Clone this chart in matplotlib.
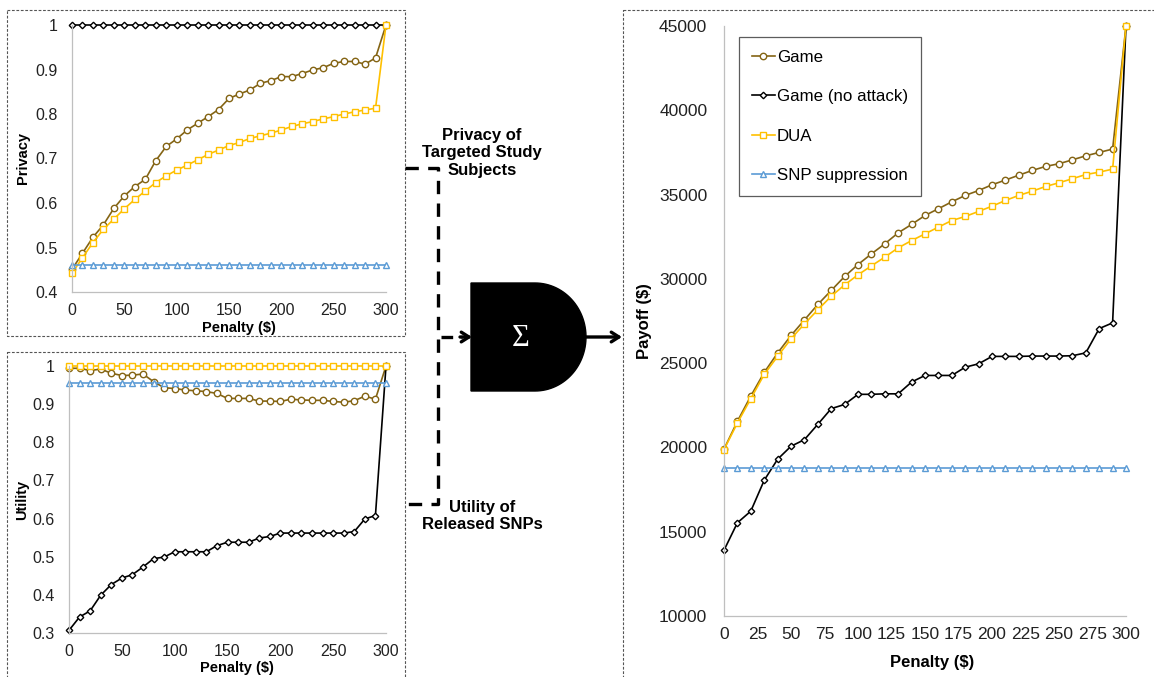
import matplotlib
matplotlib.use("Agg")
import matplotlib.pyplot as plt
import numpy as np
from matplotlib.patches import Rectangle, Polygon

plt.rcParams['font.family'] = ['Liberation Sans', 'DejaVu Sans']

# ---------------- data ----------------
penalty = [0, 10, 20, 30, 40, 50, 60, 70, 80, 90, 100, 110, 120, 130, 140, 150,
           160, 170, 180, 190, 200, 210, 220, 230, 240, 250, 260, 270, 280, 290, 300]

privacy_game = [0.451, 0.487, 0.523, 0.551, 0.588, 0.616, 0.637, 0.653, 0.695, 0.727, 0.744,
                0.764, 0.779, 0.794, 0.810, 0.835, 0.845, 0.854, 0.869, 0.875, 0.884, 0.884,
                0.891, 0.899, 0.904, 0.914, 0.918, 0.918, 0.912, 0.926, 1.0]
privacy_noattack = [1.0, 1.0, 1.0, 1.0, 1.0, 1.0, 1.0, 1.0, 1.0, 1.0, 1.0, 1.0, 1.0, 1.0, 1.0, 1.0,
                    1.0, 1.0, 1.0, 1.0, 1.0, 1.0, 1.0, 1.0, 1.0, 1.0, 1.0, 1.0, 1.0, 1.0, 1.0]
privacy_dua = [0.442, 0.477, 0.511, 0.541, 0.564, 0.587, 0.608, 0.627, 0.646, 0.661, 0.674,
               0.685, 0.697, 0.709, 0.719, 0.729, 0.736, 0.745, 0.751, 0.757, 0.764, 0.772,
               0.778, 0.783, 0.789, 0.794, 0.800, 0.805, 0.809, 0.813, 1.0]
privacy_snp = [0.46, 0.46, 0.46, 0.46, 0.46, 0.46, 0.46, 0.46, 0.46, 0.46, 0.46, 0.46, 0.46, 0.46,
               0.46, 0.46, 0.46, 0.46, 0.46, 0.46, 0.46, 0.46, 0.46, 0.46, 0.46, 0.46, 0.46, 0.46,
               0.46, 0.46, 0.46]

utility_game = [0.994, 0.994, 0.988, 0.992, 0.981, 0.975, 0.976, 0.979, 0.959, 0.943, 0.941,
                0.937, 0.935, 0.933, 0.928, 0.915, 0.915, 0.915, 0.908, 0.908, 0.907, 0.913,
                0.911, 0.910, 0.910, 0.907, 0.905, 0.909, 0.921, 0.913, 1.0]
utility_noattack = [0.307, 0.342, 0.358, 0.399, 0.427, 0.444, 0.453, 0.473, 0.495, 0.499, 0.513,
                    0.513, 0.513, 0.513, 0.529, 0.538, 0.538, 0.538, 0.549, 0.553, 0.562, 0.562,
                    0.562, 0.562, 0.562, 0.562, 0.562, 0.566, 0.599, 0.608, 1.0]
utility_dua = [1.0, 1.0, 1.0, 1.0, 1.0, 1.0, 1.0, 1.0, 1.0, 1.0, 1.0, 1.0, 1.0, 1.0, 1.0, 1.0,
               1.0, 1.0, 1.0, 1.0, 1.0, 1.0, 1.0, 1.0, 1.0, 1.0, 1.0, 1.0, 1.0, 1.0, 1.0]
utility_snp = [0.955, 0.955, 0.955, 0.955, 0.955, 0.955, 0.955, 0.955, 0.955, 0.955, 0.955,
               0.955, 0.955, 0.955, 0.955, 0.955, 0.955, 0.955, 0.955, 0.955, 0.955, 0.955,
               0.955, 0.955, 0.955, 0.955, 0.955, 0.955, 0.955, 0.955, 0.955]

payoff_game = [19900, 21550, 23050, 24450, 25600, 26640, 27560, 28480, 29310, 30140, 30850,
               31480, 32080, 32730, 33230, 33760, 34160, 34570, 34950, 35240, 35580, 35860,
               36150, 36430, 36670, 36830, 37060, 37300, 37500, 37700, 45000]
payoff_noattack = [13900, 15530, 16220, 18050, 19300, 20070, 20460, 21370, 22300, 22550, 23150,
                   23150, 23180, 23180, 23880, 24270, 24270, 24270, 24760, 24960, 25400, 25400,
                   25400, 25420, 25420, 25420, 25440, 25610, 27050, 27390, 45000]
payoff_dua = [19870, 21450, 22890, 24330, 25400, 26440, 27330, 28160, 28970, 29640, 30240,
              30770, 31290, 31840, 32270, 32670, 33070, 33460, 33700, 34000, 34310, 34650,
              34950, 35200, 35480, 35700, 35940, 36190, 36330, 36510, 45000]
payoff_snp = [18800, 18800, 18800, 18800, 18800, 18800, 18800, 18800, 18800, 18800, 18800,
              18800, 18800, 18800, 18800, 18800, 18800, 18800, 18800, 18800, 18800, 18800,
              18800, 18800, 18800, 18800, 18800, 18800, 18800, 18800, 18800]

series_names = ['Game', 'Game (no attack)', 'DUA', 'SNP suppression']

privacy_ticks = [0.4, 0.5, 0.6, 0.7, 0.8, 0.9, 1.0]
privacy_ticklabels = ['0.4', '0.5', '0.6', '0.7', '0.8', '0.9', '1']
utility_ticks = [0.3, 0.4, 0.5, 0.6, 0.7, 0.8, 0.9, 1.0]
utility_ticklabels = ['0.3', '0.4', '0.5', '0.6', '0.7', '0.8', '0.9', '1']
small_xticks = [0, 50, 100, 150, 200, 250, 300]
payoff_ticks = [10000, 15000, 20000, 25000, 30000, 35000, 40000, 45000]
payoff_xticks = [0, 25, 50, 75, 100, 125, 150, 175, 200, 225, 250, 275, 300]

# ---------------- styles ----------------
W, H = 1154, 677
BROWN = '#846414'
YELLOW = '#FFC000'
BLUE = '#5B9BD5'
AXGRAY = '#BFBFBF'
styles = [
    dict(color=BROWN, marker='o', ms=4.6),
    dict(color='black', marker='D', ms=3.3),
    dict(color=YELLOW, marker='s', ms=5.0),
    dict(color=BLUE, marker='^', ms=5.0),
]

fig = plt.figure(figsize=(W / 100, H / 100), dpi=100)


def px_axes(x0, y_top, x1, y_bot):
    # pixel box (from top-left) -> figure fraction axes
    return fig.add_axes([x0 / W, 1 - y_bot / H, (x1 - x0) / W, (y_bot - y_top) / H])


def style_axes(ax, tick_fs):
    for s in ['top', 'right']:
        ax.spines[s].set_visible(False)
    for s in ['left', 'bottom']:
        ax.spines[s].set_color(AXGRAY)
        ax.spines[s].set_linewidth(0.9)
    ax.tick_params(length=0, labelsize=tick_fs, colors='#222222')
    ax.tick_params(axis='y', pad=10)
    ax.tick_params(axis='x', pad=8)
    ax.set_xlim(0, 300)


def draw_series(ax, ys, lw=1.2):
    lines = []
    for y, st, name in zip(ys, styles, series_names):
        ln, = ax.plot(penalty, y, color=st['color'], marker=st['marker'], ms=st['ms'],
                      mfc='white', mec=st['color'], mew=1.0, lw=lw, clip_on=False, label=name)
        lines.append(ln)
    return lines


# ---------------- privacy panel ----------------
ax1 = px_axes(72, 25, 386, 292)
draw_series(ax1, [privacy_game, privacy_noattack, privacy_dua, privacy_snp])
style_axes(ax1, 11.5)
ax1.set_ylim(0.4, 1.0)
ax1.set_yticks(privacy_ticks, privacy_ticklabels)
ax1.set_xticks(small_xticks)
ax1.set_ylabel('Privacy', fontsize=10.5, fontweight='bold')
ax1.set_xlabel('Penalty ($)', fontsize=10.5, fontweight='bold')
ax1.yaxis.set_label_coords((23 - 72) / 314, 0.5)
ax1.xaxis.set_label_coords((239 - 72) / 314, -(328 - 292) / 267)
ax1.xaxis.label.set_va('center')
ax1.yaxis.label.set_va('center')

# ---------------- utility panel ----------------
ax2 = px_axes(69, 366, 386, 633)
draw_series(ax2, [utility_game, utility_noattack, utility_dua, utility_snp])
style_axes(ax2, 11.5)
ax2.set_ylim(0.3, 1.0)
ax2.set_yticks(utility_ticks, utility_ticklabels)
ax2.set_xticks(small_xticks)
ax2.set_ylabel('Utility', fontsize=10.5, fontweight='bold')
ax2.set_xlabel('Penalty ($)', fontsize=10.5, fontweight='bold')
ax2.yaxis.set_label_coords((22 - 69) / 317, 0.5)
ax2.xaxis.set_label_coords((237 - 69) / 317, -(668 - 633) / 267)
ax2.xaxis.label.set_va('center')
ax2.yaxis.label.set_va('center')

# ---------------- payoff panel ----------------
ax3 = px_axes(724, 26, 1126, 616)
handles = draw_series(ax3, [payoff_game, payoff_noattack, payoff_dua, payoff_snp])
style_axes(ax3, 12.5)
ax3.tick_params(axis='y', pad=12)
ax3.set_ylim(10000, 45000)
ax3.set_yticks(payoff_ticks)
ax3.set_xticks(payoff_xticks)
ax3.set_ylabel('Payoff ($)', fontsize=12, fontweight='bold')
ax3.set_xlabel('Penalty ($)', fontsize=12, fontweight='bold')
ax3.yaxis.set_label_coords((645 - 724) / 402, 0.5)
ax3.xaxis.set_label_coords((932 - 724) / 402, -(663 - 616) / 590)
ax3.xaxis.label.set_va('center')
ax3.yaxis.label.set_va('center')
leg = ax3.legend(handles=handles, loc='upper left',
                 bbox_to_anchor=(739 / W, 1 - 37 / H), bbox_transform=fig.transFigure,
                 fontsize=12.2, frameon=True, fancybox=False, edgecolor='#333333',
                 handlelength=1.35, handletextpad=0.15, labelspacing=1.45,
                 borderpad=0.75, borderaxespad=0)
leg.get_frame().set_linewidth(0.9)

# ---------------- overlay: panel boxes, connectors, sum gate ----------------
ov = fig.add_axes([0, 0, 1, 1], zorder=-1)
ov.set_xlim(0, W)
ov.set_ylim(H, 0)
ov.axis('off')

box_kw = dict(fill=False, ec='#555555', lw=0.8, ls=(0, (2.5, 1.5)))
ov.add_patch(Rectangle((7, 10), 398, 326, **box_kw))
ov.add_patch(Rectangle((7, 352), 398, 340, **box_kw))
ov.add_patch(Rectangle((623, 10), 540, 680, **box_kw))

ov2 = fig.add_axes([0, 0, 1, 1], zorder=5)
ov2.set_xlim(0, W)
ov2.set_ylim(H, 0)
ov2.axis('off')
dash_kw = dict(color='black', lw=2.4, ls=(0, (4, 2.8)), solid_capstyle='butt')
ov2.plot([405, 438, 438, 405], [168, 168, 504, 504], **dash_kw)
ov2.plot([441, 462], [337, 337], color='black', lw=2.4, ls=(0, (3.5, 2.5)))
ov2.annotate('', xy=(472, 337), xytext=(460, 337),
             arrowprops=dict(arrowstyle='->,head_length=0.55,head_width=0.35', lw=2.4,
                             color='black', shrinkA=0, shrinkB=0))
ov2.annotate('', xy=(622, 337), xytext=(584, 337),
             arrowprops=dict(arrowstyle='->,head_length=0.55,head_width=0.35', lw=2.4,
                             color='black', shrinkA=0, shrinkB=0))

# gate: flat left side, rounded right side
t = np.linspace(-np.pi / 2, np.pi / 2, 60)
arc = np.column_stack([535 + 51 * np.cos(t), 337 + 54 * np.sin(t)])
gate = np.vstack([[[471, 283]], arc, [[471, 391]]])
ov2.add_patch(Polygon(gate, closed=True, fc='black', ec='black'))
ov2.text(521, 338, '\u03a3', color='white', fontsize=22, ha='center', va='center',
         family=['Liberation Serif', 'DejaVu Serif'])

ov2.text(482, 153, 'Privacy of\nTargeted Study\nSubjects', fontsize=12, fontweight='bold',
         ha='center', va='center', linespacing=1.2)
ov2.text(482, 516, 'Utility of\nReleased SNPs', fontsize=12, fontweight='bold',
         ha='center', va='center', linespacing=1.2)

fig.savefig('out.png', dpi=100)
